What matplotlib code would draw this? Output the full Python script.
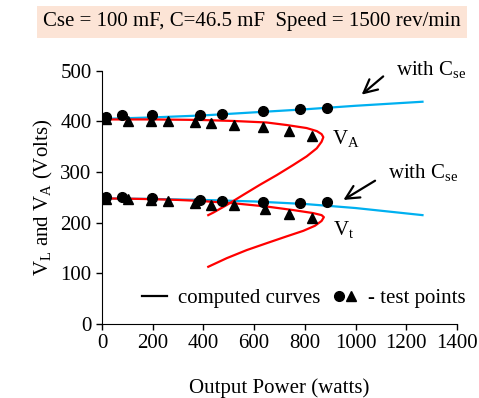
import matplotlib
matplotlib.use("Agg")
import matplotlib.pyplot as plt
from matplotlib.lines import Line2D
from matplotlib.legend_handler import HandlerTuple

plt.rcParams['font.family'] = ['Liberation Serif', 'DejaVu Serif']
plt.rcParams['mathtext.fontset'] = 'custom'
plt.rcParams['mathtext.rm'] = 'Liberation Serif'
plt.rcParams['font.size'] = 15

# test points (upper set: V_L circles, V_A triangles)
vl_top_p = [16, 80, 198, 386, 474, 634, 781, 888]
vl_top_v = [408, 412, 412, 412, 415, 420, 425, 427]
va_p = [16, 104, 192, 259, 367, 429, 522, 636, 737, 827]
va_v = [404, 400, 401, 401, 398, 397, 394, 390, 382, 372]

# test points (lower set)
vl_bot_p = [16, 80, 198, 386, 474, 634, 781, 888]
vl_bot_v = [250, 251, 248, 245, 242, 241, 238, 240]
vt_p = [16, 101, 192, 259, 367, 429, 522, 643, 737, 827]
vt_v = [247, 246, 245, 242, 238, 235, 235, 227, 217, 210]

# computed curves, with Cse (blue)
cse_p = [0, 200, 400, 600, 800, 1000, 1264]
cse_top_v = [405, 408, 412, 418, 424, 431, 439]
cse_bot_v = [248, 247, 245, 242, 237, 229, 215]

# computed curves, without Cse (red), traced along the nose
va_curve_p = [0, 100, 200, 300, 386, 518, 649, 728, 807, 847, 866, 873,
              866, 847, 807, 754, 689, 623, 557, 492, 439, 419]
va_curve_v = [404, 404, 404, 403.5, 403, 401, 398, 393, 387, 381, 375, 369,
              360, 347, 331, 314, 294, 275, 255, 235, 220, 215]
vt_curve_p = [0, 100, 200, 300, 386, 518, 649, 754, 833, 866, 875,
              866, 840, 794, 728, 649, 571, 492, 419]
vt_curve_v = [248, 247.5, 246.5, 245, 243, 238.5, 232, 225, 219, 215, 211,
              203.5, 194, 184, 173, 159.5, 146, 130, 113]

fig = plt.figure(figsize=(4.79, 3.98), dpi=100)
ax = fig.add_axes([0.213, 0.186, 0.741, 0.636])

ax.plot(cse_p, cse_top_v, color='#00b0f0', lw=1.6)
ax.plot(cse_p, cse_bot_v, color='#00b0f0', lw=1.6)
ax.plot(va_curve_p, va_curve_v, color='red', lw=1.6, solid_joinstyle='round')
ax.plot(vt_curve_p, vt_curve_v, color='red', lw=1.6, solid_joinstyle='round')

ax.plot(vl_top_p, vl_top_v, 'o', color='black', ms=7)
ax.plot(va_p, va_v, '^', color='black', ms=7)
ax.plot(vl_bot_p, vl_bot_v, 'o', color='black', ms=7)
ax.plot(vt_p, vt_v, '^', color='black', ms=7)

ax.set_xlim(0, 1400)
ax.set_ylim(0, 500)
ax.set_xticks(range(0, 1401, 200))
ax.set_yticks(range(0, 501, 100))
ax.spines['top'].set_visible(False)
ax.spines['right'].set_visible(False)
ax.tick_params(length=4, width=1)

ax.set_xlabel('Output Power (watts)', labelpad=18)
ax.set_ylabel(r'V$_{\rm L}$ and V$_{\rm A}$ (Volts)')

arrow = dict(arrowstyle='->', lw=1.6, color='black', mutation_scale=24,
             shrinkA=0, shrinkB=0)
ax.annotate('', xy=(1024, 453), xytext=(1109, 489), arrowprops=arrow,
            annotation_clip=False)
ax.annotate('', xy=(952, 245), xytext=(1077, 283), arrowprops=arrow,
            annotation_clip=False)
ax.text(1159, 502, r'with C$_{\rm se}$', va='center', clip_on=False)
ax.text(1128, 298, r'with C$_{\rm se}$', va='center')
ax.text(906, 364, r'V$_{\rm A}$', va='center')
ax.text(911, 186, r'V$_{\rm t}$', va='center')

line_h = Line2D([], [], color='black', lw=1.6)
circ_h = Line2D([], [], marker='o', color='black', ls='none', ms=7)
tri_h = Line2D([], [], marker='^', color='black', ls='none', ms=7)
ax.legend([line_h, (circ_h, tri_h)], ['computed curves', '- test points'],
          handler_map={tuple: HandlerTuple(ndivide=None, pad=0.0)},
          ncol=2, frameon=False, loc='center left', bbox_to_anchor=(0.09, 0.1),
          handlelength=1.2, handletextpad=0.5, columnspacing=0.6,
          borderaxespad=0)

fig.text(0.526, 0.945, 'Cse = 100 mF, C=46.5 mF  Speed = 1500 rev/min',
         ha='center', va='center',
         bbox=dict(boxstyle='square,pad=0.3', fc='#fce4d6', ec='none'))

fig.savefig('out.png', dpi=100)
